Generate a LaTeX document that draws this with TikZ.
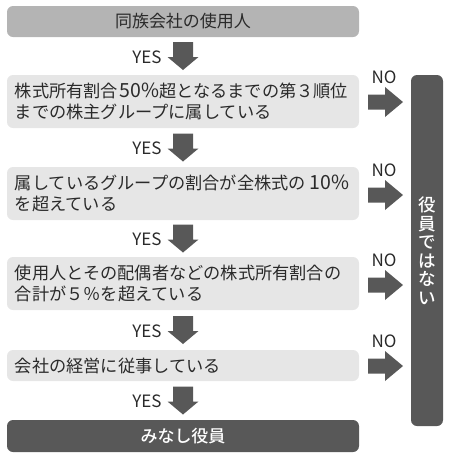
\documentclass[tikz,border=0pt]{standalone}
\usepackage{fontspec}
\setmainfont{Noto Sans CJK JP}
\newfontfamily\jpbold{Noto Sans CJK JP Medium}
\definecolor{topfill}{HTML}{B4B4B4}
\definecolor{boxfill}{HTML}{E6E6E6}
\definecolor{darkfill}{HTML}{585858}
\definecolor{txt}{HTML}{2A2A2A}
\newcommand{\lat}[1]{{\fontsize{19.5}{20}\selectfont #1}}
\tikzset{
  qbox/.style={fill=boxfill, rounded corners=6pt, minimum width=352pt, text width=336pt,
    inner sep=0pt, align=left, font=\fontsize{17.2}{20.5}\selectfont, text=txt},
  topbox/.style={fill=topfill, rounded corners=6pt, minimum width=352pt, minimum height=31pt,
    inner sep=0pt, font=\fontsize{17}{20}\selectfont, text=txt},
  endbox/.style={fill=darkfill, rounded corners=6pt, minimum width=352pt, minimum height=32pt,
    inner sep=0pt, font=\jpbold\fontsize{17}{20}\selectfont, text=white},
  sidebox/.style={fill=darkfill, rounded corners=6pt, minimum width=32pt, minimum height=351pt,
    inner sep=0pt, align=center, font=\jpbold\fontsize{17.5}{18.5}\selectfont, text=white},
  lbl/.style={font=\fontsize{17}{17}\selectfont, text=txt, inner sep=0pt},
}
\newcommand{\downarr}[1]{\fill[darkfill] ($(#1)+(-10,-14)$) -- ($(#1)+(10,-14)$) -- ($(#1)+(10,1)$) -- ($(#1)+(15.5,1)$) -- ($(#1)+(0,14)$) -- ($(#1)+(-15.5,1)$) -- ($(#1)+(-10,1)$) -- cycle;}
\newcommand{\rightarr}[1]{\fill[darkfill] ($(#1)+(-17,-7.5)$) -- ($(#1)+(0,-7.5)$) -- ($(#1)+(0,-15)$) -- ($(#1)+(18,0)$) -- ($(#1)+(0,15)$) -- ($(#1)+(0,7.5)$) -- ($(#1)+(-17,7.5)$) -- cycle;}
\usetikzlibrary{calc}
\begin{document}
\begin{tikzpicture}[x=1pt,y=-1pt]
\useasboundingbox (0,0) rectangle (450,459);
\node[topbox] (top) at (183,21.5) {同族会社の使用人};
\node[qbox, minimum height=53pt] (q1) at (183,101.5) {株式所有割合\hspace{1.5pt}\lat{50\%}超となるまでの第３順位\\までの株主グループに属している};
\node[qbox, minimum height=53pt] (q2) at (183,193.5) {属しているグループの割合が全株式の\hspace{4pt}\lat{10\%}\\を超えている};
\node[qbox, minimum height=53pt] (q3) at (183,283.5) {使用人とその配偶者などの株式所有割合の\\合計が５％を超えている};
\node[qbox, minimum height=31pt] (q4) at (183,365.5) {会社の経営に従事している};
\node[endbox] (fin) at (183,436) {みなし役員};
\node[sidebox] (no) at (427,250.5) {役\\員\\で\\は\\な\\い};
% down arrows
\coordinate (d1) at ($(top.south)!0.5!(q1.north)$);
\coordinate (d2) at ($(q1.south)!0.5!(q2.north)$);
\coordinate (d3) at ($(q2.south)!0.5!(q3.north)$);
\coordinate (d4) at ($(q3.south)!0.5!(q4.north)$);
\coordinate (d5) at ($(q4.south)!0.5!(fin.north)$);
\foreach \c in {d1,d2,d3,d4,d5}{
  \downarr{\c}
  \node[lbl] at ($(\c)+(-36,1)$) {YES};
}
% right arrows
\coordinate (r1) at (385,102);
\coordinate (r2) at (385,195);
\coordinate (r3) at (385,285);
\coordinate (r4) at (385,366);
\foreach \c in {r1,r2,r3,r4}{
  \rightarr{\c}
  \node[lbl] at ($(\c)+(-1,-25)$) {NO};
}
\end{tikzpicture}
\end{document}
